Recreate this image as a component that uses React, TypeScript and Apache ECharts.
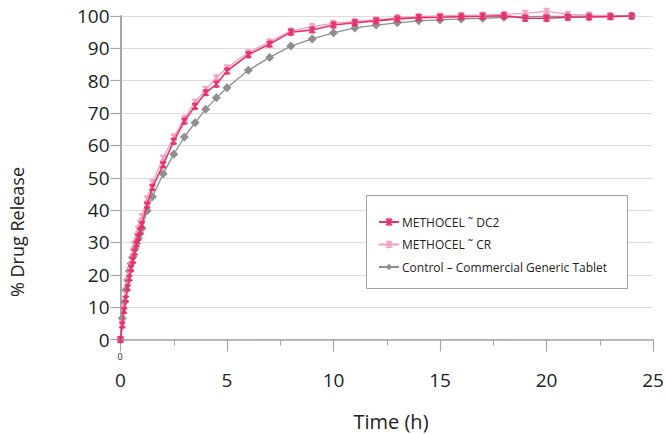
import React, { useEffect, useRef } from "react";
import * as echarts from "echarts";

const timeH = [0, 0.083, 0.167, 0.25, 0.333, 0.417, 0.5, 0.583, 0.667, 0.75, 0.833, 0.917, 1, 1.25, 1.5, 2, 2.5, 3, 3.5, 4, 4.5, 5, 6, 7, 8, 9, 10, 11, 12, 13, 14, 15, 16, 17, 18, 19, 20, 21, 22, 23, 24];
const dc2 = [0, 4.5, 9, 12.5, 16, 19, 22, 24.5, 27, 29.5, 31.5, 33.5, 35.5, 41.5, 47, 54, 61.3, 67.5, 72.1, 76.3, 78.9, 83.0, 88.0, 91.3, 95.0, 95.7, 97.2, 97.9, 98.5, 99.1, 99.5, 99.6, 99.8, 99.9, 100.1, 99.3, 99.3, 99.6, 99.7, 99.8, 100];
const cr = [0, 5, 10, 14, 18, 21.5, 24.5, 27, 29.5, 32, 34, 36, 38, 43.5, 48.5, 56.1, 62.6, 68.3, 73.4, 77.3, 80.9, 84.0, 88.7, 92.0, 95.4, 96.7, 97.7, 98.3, 98.8, 99.5, 99.8, 100, 100.2, 100.3, 100.5, 100.8, 101.4, 100.5, 100.3, 100.1, 100];
const control = [0, 6.6, 11.4, 15.3, 18.4, 21.2, 23.5, 25.5, 28, 29.7, 31.3, 32.8, 34.3, 39.8, 44.1, 51.2, 57.3, 62.6, 67.0, 71.2, 74.7, 77.8, 83.2, 87.2, 90.7, 92.9, 94.8, 96.3, 97.2, 97.9, 98.5, 98.8, 99.1, 99.3, 99.6, 99.8, 99.9, 99.9, 100, 100, 100];

const seriesNames = ["METHOCEL \u02DC DC2", "METHOCEL \u02DC CR", "Control \u2013 Commercial Generic Tablet"];
const xTitle = "Time (h)";
const yTitle = "% Drug Release";

const FONT = "Open Sans";
const STAR = "path://M0,0L10,10M10,0L0,10M5,0L5,10M2,0L8,0M2,10L8,10";
const C_DC2 = "#e8306c";
const C_CR = "#f49ac1";
const C_CTRL = "#8f8f8f";

function pairs(ys: number[]) {
  return timeH.map((t, i) => [t, ys[i]]);
}

export default function App() {
  const ref = useRef<HTMLDivElement>(null);
  useEffect(() => {
    if (!ref.current) return;
    const chart = echarts.init(ref.current, undefined, { renderer: "svg" });
    chart.setOption({
      animation: false,
      backgroundColor: "#ffffff",
      textStyle: { fontFamily: FONT },
      grid: { left: 120.5, right: 14, top: 16, bottom: 94.5, containLabel: false, outerBoundsMode: "none" },
      xAxis: {
        type: "value",
        min: 0,
        max: 25,
        interval: 5,
        axisLine: { show: true, lineStyle: { color: "#a6a6a6", width: 1.5 } },
        axisTick: { show: true, length: 12, lineStyle: { color: "#a6a6a6", width: 1.2 } },
        minorTick: { show: true, splitNumber: 2, length: 6, lineStyle: { color: "#a6a6a6", width: 1 } },
        axisLabel: { fontSize: 19, color: "#222", margin: 31, fontFamily: FONT },
        splitLine: { show: false },
      },
      yAxis: {
        type: "value",
        min: 0,
        max: 100,
        interval: 10,
        axisLine: { show: true, lineStyle: { color: "#a6a6a6", width: 2 } },
        axisTick: { show: true, length: 10, lineStyle: { color: "#a6a6a6", width: 1.2 } },
        axisLabel: { fontSize: 19, color: "#222", margin: 11, fontFamily: FONT },
        splitLine: { show: true, lineStyle: { color: "#dcdcdc", width: 1.2 } },
      },
      legend: {
        orient: "vertical",
        left: 373,
        top: 211,
        itemGap: 10.5,
        itemWidth: 20,
        itemHeight: 8,
        z: 10,
        textStyle: { fontSize: 12, color: "#222", fontFamily: FONT, padding: [0, 0, 0, -2] },
        data: [
          { name: seriesNames[0], itemStyle: { color: "transparent", borderColor: C_DC2, borderWidth: 1.3 } },
          { name: seriesNames[1], itemStyle: { color: "transparent", borderColor: C_CR, borderWidth: 1.2 } },
          { name: seriesNames[2] },
        ],
      },
      graphic: [
        {
          type: "rect",
          shape: { x: 366.5, y: 195.5, width: 261, height: 93 },
          style: { fill: "#ffffff", stroke: "#a0a0a0", lineWidth: 1 },
          z: 1,
        },
        {
          type: "text",
          x: 120,
          y: 356,
          style: { text: "0", fontSize: 9, fill: "#222", align: "center", verticalAlign: "middle", fontFamily: FONT },
        },
        {
          type: "text",
          x: 391,
          y: 421,
          style: { text: xTitle, fontSize: 20, fill: "#222", align: "center", verticalAlign: "middle", fontFamily: FONT },
        },
        {
          type: "text",
          x: 17,
          y: 232,
          rotation: Math.PI / 2,
          style: { text: yTitle, fontSize: 18, fill: "#222", align: "center", verticalAlign: "middle", fontFamily: FONT },
        },
      ],
      series: [
        {
          name: seriesNames[2],
          type: "line",
          data: pairs(control),
          clip: false,
          symbol: "diamond",
          symbolSize: 9,
          itemStyle: { color: C_CTRL },
          lineStyle: { color: C_CTRL, width: 1.3 },
          z: 2,
        },
        {
          name: seriesNames[1],
          type: "line",
          data: pairs(cr),
          clip: false,
          symbol: STAR,
          symbolSize: 6,
          itemStyle: { color: "transparent", borderColor: C_CR, borderWidth: 1.2 },
          lineStyle: { color: C_CR, width: 1.3 },
          z: 3,
        },
        {
          name: seriesNames[0],
          type: "line",
          data: pairs(dc2),
          clip: false,
          symbol: STAR,
          symbolSize: 6,
          itemStyle: { color: "transparent", borderColor: C_DC2, borderWidth: 1.4 },
          lineStyle: { color: C_DC2, width: 1.6 },
          z: 4,
        },
      ],
    });
    return () => chart.dispose();
  }, []);
  return <div ref={ref} style={{ width: 667, height: 434, position: "absolute", left: 0, top: 0 }} />;
}
